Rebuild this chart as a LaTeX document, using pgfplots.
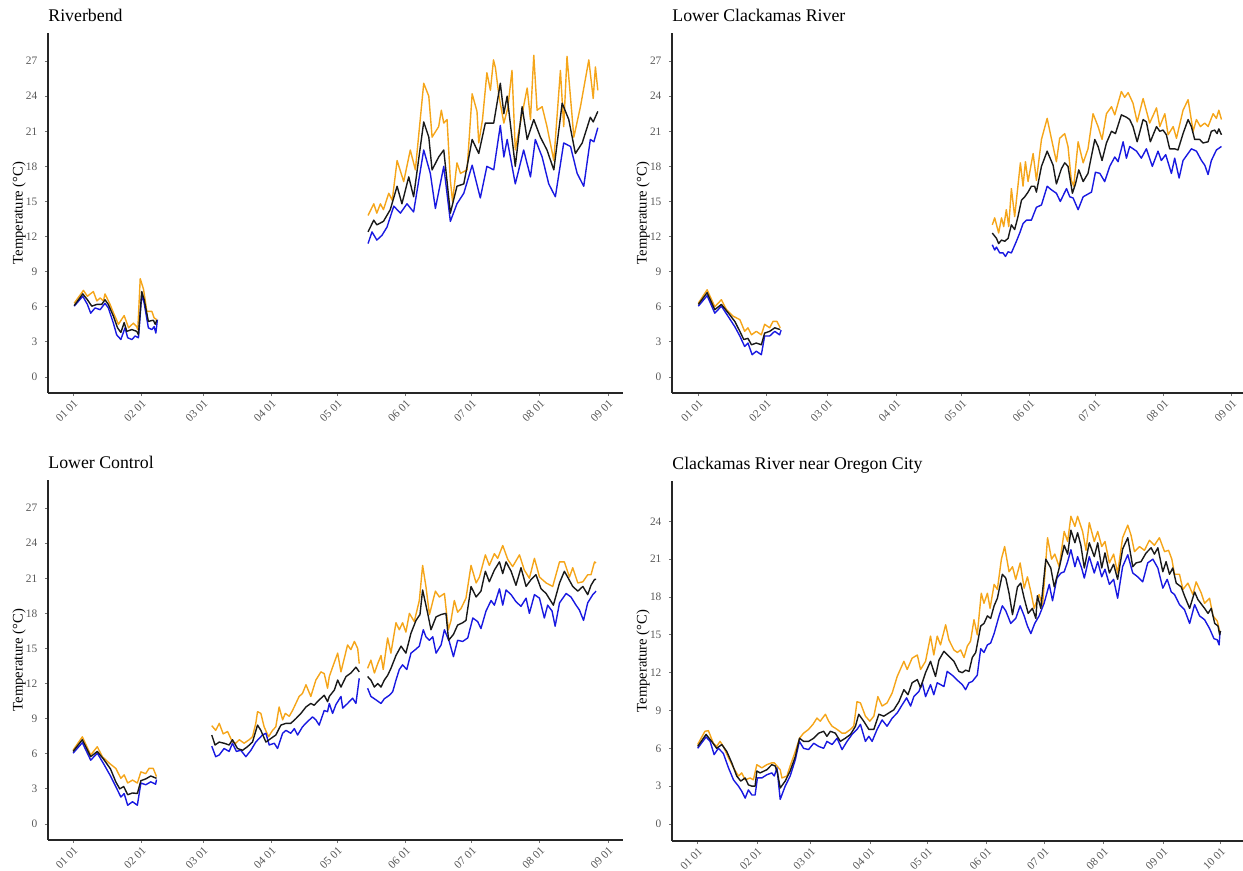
\documentclass[border=0pt]{standalone}
\usepackage{fontspec}
\setmainfont{Liberation Serif}
\usepackage{pgfplots}
\pgfplotsset{compat=1.18}
\definecolor{cmax}{RGB}{245,165,25}
\definecolor{cmean}{RGB}{25,25,25}
\definecolor{cmin}{RGB}{25,25,225}
\pgfplotsset{
 panel/.style={
  scale only axis, width=287.35pt, height=180pt,
  axis lines=left, axis line style={-, black!85, line width=0.6pt},
  tick style={black!55, line width=0.4pt}, tick align=outside, major tick length=1.6pt,
  xtick={0,31,59,90,120,151,181,212,243},
  xticklabels={01 01,02 01,03 01,04 01,05 01,06 01,07 01,08 01,09 01},
  ytick={0,3,...,27},
  ymin=-1.37, ymax=29.4,
  tick label style={font=\fontsize{5.7}{6}\selectfont, text=black!65},
  xticklabel style={rotate=45, anchor=north east, inner sep=0.8pt},
  yticklabel style={inner sep=1.5pt, xshift=-2pt},
  /pgf/number format/assume math mode=true,
  every axis y label/.style={at={([xshift=-14.5pt]axis description cs:0,0.5)}, rotate=90, anchor=center, inner sep=0pt, font=\fontsize{7.3}{8}\selectfont},
  ylabel={Temperature (°C)},
  every axis title/.style={at={(axis description cs:0,1)}, anchor=base west, inner sep=0pt, yshift=5.5pt, font=\fontsize{8.9}{10}\selectfont},
 },
 tmax/.style={cmax, line width=0.7pt, line join=round, no marks},
 tmean/.style={cmean, line width=0.7pt, line join=round, no marks},
 tmin/.style={cmin, line width=0.7pt, line join=round, no marks},
}
\begin{document}
\begin{tikzpicture}
\useasboundingbox (0,0) rectangle (621.5pt,435.5pt);
% ---------------- Panel 1: Riverbend
\begin{axis}[panel, at={(24pt,239pt)}, anchor=south west, xmin=-11.4, xmax=249.7, title={Riverbend}]
\addplot[tmax] coordinates {(0.5,6.3)(4.7,7.4)(6.5,6.9)(9.2,7.3)(10.8,6.5)(12.3,6.75)(13.8,6.5)(14.5,7.1)(16.8,6.2)(18.3,5.5)(20.6,4.5)(23.2,5.25)(25.2,4.2)(27.4,4.6)(28.9,4.3)(29.4,4.05)(30.5,8.4)(32,7.5)(33.5,5.6)(35.8,5.6)(36.8,5.05)(38,4.9)};
\addplot[tmax] coordinates {(134,13.8)(136.6,14.8)(138,14.0)(139.6,14.8)(141,14.3)(143.4,15.7)(145,15.1)(147.2,18.5)(150.2,16.7)(153.2,19.4)(155.5,17.7)(159.3,25.1)(161.6,24.0)(163.1,20.5)(166.1,21.4)(167.3,22.8)(168.4,21.7)(169.9,22.0)(171.4,16.8)(172.4,15.0)(174.4,18.3)(176,17.4)(179,17.7)(181.3,24.2)(183.5,22.7)(184.3,20.0)(186,22)(188,26.0)(189.6,24.5)(191,27.1)(191.9,26.4)(193.5,24)(195.7,21.7)(197.5,23)(199.4,26.2)(200.9,19.4)(203.2,21.7)(206.3,24.7)(207.8,22.0)(209.3,27.5)(210.8,22.8)(213.1,23.1)(215.3,21.4)(218.4,18.5)(221.4,26.2)(222.9,21.4)(224.4,27.4)(227.5,20.5)(230.5,23.1)(234.3,27.1)(236.3,23.8)(237.3,26.5)(238.4,24.5)};
\addplot[tmin] coordinates {(0.5,6.05)(4.4,6.9)(6.5,6.2)(8.0,5.45)(10,5.9)(12.3,5.75)(14.5,6.3)(16,5.9)(18.3,4.6)(19.8,3.6)(21.7,3.2)(23.6,4.2)(24.8,3.35)(26.7,3.2)(28.2,3.5)(29.7,3.35)(31.2,7.05)(32.3,6.3)(34.2,4.2)(35.8,4.05)(36.8,4.3)(37.6,3.75)(38.3,4.9)};
\addplot[tmin] coordinates {(134,11.4)(135.8,12.4)(138,11.7)(140.3,12.1)(142.6,12.8)(145.7,14.6)(148.7,14.0)(151.7,14.8)(154.7,14.1)(159.3,19.4)(162.3,17.4)(164.6,14.4)(168.4,18.0)(171.4,13.3)(174.4,14.8)(177.5,15.7)(181.3,18.1)(185,15.3)(188,18.0)(191.1,17.7)(194.1,21.5)(195.7,18.8)(197.2,20.3)(200.9,16.5)(204.7,19.4)(207.8,17.1)(210,20.3)(213.1,18.8)(216.1,16.5)(219.1,15.4)(222.9,20.0)(226,19.7)(229,17.4)(232,16.3)(235,20.3)(236.6,20.1)(238.4,21.3)};
\addplot[tmean] coordinates {(0.5,6.1)(4.4,7.1)(6.5,6.6)(8.5,6.05)(10.8,6.2)(13,6.2)(14.5,6.6)(16,6.2)(18.3,5.2)(20.2,4.2)(21.7,3.8)(23.2,4.65)(24.4,3.9)(26.7,4.05)(28.9,3.9)(29.7,3.6)(31.2,7.3)(32.3,6.6)(34.2,4.75)(36.5,4.85)(37.3,4.5)(38,4.85)};
\addplot[tmean] coordinates {(134,12.4)(136.6,13.4)(138,13.0)(141,13.3)(144.1,14.3)(147.2,16.3)(149.4,14.8)(152.5,17.1)(154.7,15.4)(159.3,21.8)(161.6,20.5)(163.1,17.7)(166.1,18.8)(168.4,19.4)(171.4,14.0)(174.4,16.3)(177.5,16.5)(181.3,20.3)(184.3,19.1)(187.3,21.7)(191.1,21.7)(194.1,25.1)(195.7,22.5)(197.2,24.0)(200.9,18.0)(204,23.1)(206.3,20.3)(209.3,22.0)(212.3,20.5)(215.3,19.4)(218.4,17.7)(222.2,23.4)(225.2,22.0)(228.2,19.1)(231.3,20.0)(235,22.2)(236.3,21.8)(238.4,22.7)};
\end{axis}
% ---------------- Panel 2: Lower Clackamas River
\begin{axis}[panel, at={(336pt,239pt)}, anchor=south west, xmin=-12.0, xmax=249.8, title={Lower Clackamas River}]
\addplot[tmax] coordinates {(0,6.3)(4.0,7.45)(7.5,6.0)(10.5,6.6)(12.8,5.75)(15.8,5.2)(18.9,4.9)(21.1,3.9)(22.6,4.2)(24.2,3.6)(26.4,3.9)(28.7,3.6)(30.2,4.5)(32.5,4.2)(34.0,4.75)(35.8,4.75)(37.3,4.2)};
\addplot[tmax] coordinates {(133.9,13.0)(135.0,13.6)(136.8,12.3)(138.1,13.6)(139.1,12.85)(140.3,14.3)(141.4,12.85)(142.6,16.1)(144.1,13.7)(146.7,18.3)(147.9,16.3)(149.0,18.4)(150.2,16.7)(152.5,19.1)(154.0,16.8)(156.3,20.3)(158.9,22.1)(160.8,20.4)(163.1,18.4)(164.6,20.4)(166.9,20.8)(168.4,19.7)(169.9,16.8)(171.0,16.3)(173.0,20.1)(175.3,18.3)(177.5,19.5)(179.8,22.5)(182.1,21.4)(183.9,20.3)(185.9,22.5)(188.2,23.1)(189.7,22.4)(192.7,24.4)(194.2,23.9)(195.8,24.3)(198.0,23.4)(199.9,21.8)(202.6,23.8)(205.6,21.7)(208.7,23.0)(210.2,21.4)(212.5,22.5)(214.0,20.7)(216.3,21.4)(217.8,20.4)(220.8,22.8)(223.1,23.7)(225.4,21.0)(226.9,22.0)(228.7,21.4)(230.7,21.7)(232.2,21.4)(234.5,22.5)(236.0,22.1)(237.1,22.8)(238.3,22.0)};
\addplot[tmin] coordinates {(0,6.05)(4.0,6.95)(7.5,5.45)(10.5,6.05)(13.5,5.2)(16.6,4.3)(18.9,3.5)(21.1,2.6)(22.6,2.9)(24.5,1.9)(26.4,2.2)(28.7,1.9)(30.2,3.5)(32.5,3.5)(34.8,3.9)(37.0,3.6)(37.7,4.0)};
\addplot[tmin] coordinates {(133.9,11.3)(135.0,10.85)(135.8,11.1)(137.3,10.6)(138.8,10.6)(139.9,10.3)(141.1,10.7)(142.6,10.6)(144.9,11.6)(146.4,12.3)(147.9,13.1)(149.4,13.4)(151.7,13.4)(154.0,14.5)(156.3,14.7)(158.9,16.3)(160.8,16.0)(163.1,15.7)(164.9,15.0)(167.7,16.1)(169.2,15.4)(170.7,15.3)(173.0,14.3)(175.3,15.4)(179.1,15.8)(180.9,17.5)(182.9,17.4)(185.1,16.7)(187.4,18.0)(189.7,18.8)(191.2,18.4)(193.5,20.1)(195.0,18.7)(196.5,19.7)(199.6,19.3)(201.8,18.7)(204.1,19.5)(206.8,18.0)(209.4,19.3)(210.9,18.5)(212.9,19.0)(215.5,17.4)(217.0,18.7)(219.0,17.0)(220.8,18.5)(224.6,19.5)(226.9,19.3)(229.2,18.5)(230.7,18.1)(232.2,17.3)(233.7,18.5)(236.0,19.4)(238.3,19.7)};
\addplot[tmean] coordinates {(0,6.2)(4.0,7.2)(7.5,5.75)(10.5,6.2)(13.5,5.5)(16.6,4.75)(18.9,3.9)(20.7,3.2)(22.6,3.3)(24.2,2.75)(26.4,2.9)(28.7,2.75)(30.2,3.75)(32.5,3.9)(34.8,4.2)(37.3,4.05)};
\addplot[tmean] coordinates {(133.9,12.3)(135.8,11.85)(136.8,11.4)(138.1,11.7)(139.6,11.6)(141.1,11.85)(142.6,13.0)(144.1,12.6)(145.6,13.7)(147.2,15.1)(148.7,15.4)(150.2,15.8)(151.7,16.3)(153.2,16.3)(154.0,15.8)(156.3,18.0)(158.9,19.3)(161.6,18.1)(163.1,16.5)(165.4,17.8)(166.9,18.3)(168.4,18.0)(170.4,15.7)(171.8,16.5)(173.3,17.7)(175.3,16.7)(177.5,17.4)(180.6,20.3)(182.1,19.7)(183.9,18.5)(185.9,20.0)(188.2,21.0)(190.0,20.8)(192.7,22.4)(195.0,22.2)(196.5,22.0)(198.0,21.4)(199.9,20.1)(202.6,22.0)(204.1,21.8)(205.9,20.1)(208.7,21.4)(210.2,21.0)(211.7,21.1)(213.2,20.7)(214.7,19.5)(217.0,19.5)(218.5,19.4)(220.8,20.8)(223.1,22.0)(224.6,21.4)(226.1,20.3)(228.4,20.3)(229.9,20.0)(232.2,20.1)(233.7,21.0)(235.2,21.1)(236.3,20.8)(237.1,21.2)(238.3,20.7)};
\end{axis}
% ---------------- Panel 3: Lower Control
\begin{axis}[panel, at={(24pt,15.5pt)}, anchor=south west, xmin=-11.4, xmax=249.7, title={Lower Control}]
\addplot[tmax] coordinates {(0,6.3)(4.2,7.45)(8.0,5.9)(11,6.6)(13.3,5.75)(16.4,5.2)(19.4,4.75)(21.7,3.9)(23.2,4.2)(24.8,3.5)(27.0,3.75)(29.2,3.5)(30.8,4.45)(33.0,4.3)(34.5,4.75)(36.4,4.75)(37.9,4.05)};
\addplot[tmax] coordinates {(63.0,8.4)(64.8,8.0)(66.4,8.6)(68.2,7.7)(70.2,7.9)(72.4,7.0)(73.9,6.9)(75.5,7.2)(77.7,6.9)(80.0,7.2)(81.5,7.45)(83.0,8.6)(83.8,9.6)(85.3,9.45)(86.8,8.3)(88.8,7.45)(90.6,8.0)(92.1,8.3)(93.6,10.0)(95.2,8.9)(96.4,9.45)(98.2,9.2)(99.7,9.7)(102.7,10.9)(104.2,11.15)(105.8,11.9)(108.0,10.9)(110.3,12.3)(112.6,13.0)(114.1,12.85)(115.6,11.6)(116.4,12.6)(117.9,13.4)(120.2,14.6)(121.7,13.0)(124.7,15.3)(126.2,14.9)(127.8,15.6)(129.3,15.0)(130.0,13.7)};
\addplot[tmax] coordinates {(133.8,13.3)(135.3,14.0)(136.9,12.9)(138.4,13.7)(139.9,14.4)(140.9,13.2)(142.9,15.9)(144.4,14.6)(146.7,17.2)(148.2,16.6)(149.7,17.2)(151.2,16.4)(152.8,18.0)(155.0,17.3)(157.3,19.1)(158.8,22.1)(160.3,20.3)(161.9,17.9)(164.6,19.9)(166.4,19.4)(168.7,19.7)(170.5,16.6)(171.7,17.4)(173.2,19.1)(174.7,18.1)(176.2,18.4)(178.5,19.3)(180.8,22.1)(183.1,20.6)(184.6,21.1)(187.3,23.0)(189.1,22.1)(191.4,23.1)(192.9,22.7)(195.2,23.8)(197.5,22.6)(199.7,22.0)(202.8,23.0)(205.0,21.7)(207.3,21.0)(209.6,22.7)(211.9,21.1)(214.9,20.6)(217.9,20.3)(221.0,22.4)(223.2,22.4)(225.5,21.1)(227.0,21.9)(229.3,20.6)(231.6,20.7)(233.8,21.3)(235.3,21.3)(236.9,22.4)(237.6,22.3)};
\addplot[tmin] coordinates {(0,6.05)(4.2,6.95)(8.0,5.45)(11,6.05)(14,5.1)(17,4.1)(19.4,3.2)(21.7,2.3)(23.2,2.6)(24.8,1.6)(27.0,1.9)(29.2,1.6)(30.8,3.5)(33.0,3.35)(35.3,3.6)(37.5,3.4)(37.9,3.8)};
\addplot[tmin] coordinates {(63.0,6.65)(64.8,5.75)(66.4,5.9)(68.6,6.45)(70.9,6.2)(72.4,6.9)(74.2,6.2)(76.2,6.3)(78.5,5.75)(80.8,6.3)(83.0,7.0)(86.0,7.6)(87.6,7.75)(89.1,6.75)(91.4,6.9)(92.9,6.45)(95.2,7.75)(96.7,8.0)(98.9,7.75)(100.5,8.15)(102.0,7.6)(104.2,8.3)(106.5,8.75)(108.8,9.15)(110.3,8.9)(111.8,8.45)(114.1,9.7)(115.6,9.6)(116.4,10.3)(117.9,9.45)(119.4,10.2)(121.7,10.9)(122.5,9.9)(124.7,10.3)(127.0,10.75)(128.5,10.3)(130.0,12.45)};
\addplot[tmin] coordinates {(133.8,11.6)(135.3,10.9)(136.9,10.7)(138.4,10.5)(139.9,10.3)(141.4,10.7)(143.7,11.0)(145.2,11.3)(146.7,12.3)(148.2,13.2)(149.7,13.6)(151.6,13.2)(153.5,14.6)(155.5,14.9)(157.3,15.2)(159.1,16.6)(160.3,16.0)(161.9,15.7)(163.4,16.0)(164.9,14.6)(167.2,15.3)(168.7,16.6)(170.9,15.6)(172.8,14.3)(174.7,15.7)(177.0,15.6)(179.3,15.9)(181.6,17.6)(183.8,17.3)(185.3,16.7)(187.6,18.2)(189.9,19.1)(191.4,18.7)(193.7,20.1)(195.2,18.7)(196.7,20.0)(199.0,19.6)(201.2,19.0)(203.5,18.6)(205.8,19.3)(207.3,18.0)(209.6,19.6)(211.9,19.3)(214.1,17.6)(215.6,18.7)(217.6,18.2)(219.0,16.9)(221.0,18.9)(224.0,19.7)(226.2,19.4)(228.5,18.7)(230.0,18.3)(231.9,17.4)(233.8,18.9)(236.1,19.6)(237.6,19.9)};
\addplot[tmean] coordinates {(0,6.2)(4.2,7.2)(8.0,5.75)(11,6.2)(14,5.5)(17,4.7)(19.4,3.6)(21.2,3.0)(23.0,3.2)(24.8,2.5)(27.0,2.65)(29.2,2.6)(30.8,3.7)(33.0,3.85)(35.3,4.1)(37.9,3.9)};
\addplot[tmean] coordinates {(63.0,7.6)(64.5,6.75)(66.4,7.0)(68.6,6.9)(70.9,6.75)(72.4,7.2)(74.7,6.45)(77.0,6.3)(79.2,6.6)(81.5,7.0)(83.8,8.45)(85.3,8.0)(87.6,7.0)(89.8,7.3)(92.1,7.6)(94.4,8.45)(96.7,8.6)(98.9,8.6)(101.2,9.0)(103.5,9.45)(105.8,10.0)(108.0,10.3)(109.5,10.15)(111.8,10.6)(114.1,11.0)(115.6,10.45)(116.4,10.9)(118.7,11.45)(120.2,12.3)(121.7,11.7)(124.0,12.6)(126.2,12.9)(128.5,13.4)(130.0,13.0)};
\addplot[tmean] coordinates {(133.8,12.6)(135.3,12.3)(136.9,11.7)(138.4,12.0)(139.9,11.7)(141.4,12.3)(142.9,12.7)(144.4,13.3)(146.7,14.4)(149.0,15.2)(151.2,14.6)(153.5,16.3)(155.8,17.4)(157.6,17.9)(158.8,20.0)(161.1,18.0)(162.6,16.6)(164.9,17.7)(167.2,17.9)(169.4,18.0)(170.6,15.7)(172.8,16.2)(174.7,17.0)(177.0,17.2)(178.5,17.4)(180.8,20.3)(183.1,19.4)(185.3,19.9)(187.3,21.6)(189.1,20.7)(191.4,21.7)(193.7,22.4)(195.2,21.4)(196.7,22.4)(199.0,21.6)(201.2,20.4)(203.5,21.9)(205.8,20.3)(208.1,20.9)(210.3,21.3)(212.6,20.1)(214.9,19.7)(218.2,18.7)(221.0,20.6)(223.2,21.6)(224.7,21.1)(227.0,20.3)(229.3,19.9)(231.6,20.3)(233.8,19.6)(235.3,20.4)(236.9,20.9)(237.6,20.9)};
\end{axis}
% ---------------- Panel 4: Clackamas River near Oregon City
\begin{axis}[panel, at={(336pt,15pt)}, anchor=south west, xmin=-13.4, xmax=286.7, ymin=-1.35, ymax=27.2,
  ytick={0,3,...,24},
  xtick={0,31,59,90,120,151,181,212,243,273},
  xticklabels={01 01,02 01,03 01,04 01,05 01,06 01,07 01,08 01,09 01,10 01},
  title={Clackamas River near Oregon City}]
\addplot[tmax] coordinates {(0,6.3)(3.8,7.35)(5.6,7.4)(8.2,6.4)(9.9,6.15)(11.7,6.55)(13.4,6.15)(16.1,5.25)(18.7,4.45)(21.3,3.8)(23.0,4.05)(24.8,3.5)(27.4,3.65)(29.1,3.5)(30.9,4.7)(33.5,4.45)(36.1,4.7)(38.7,4.85)(40.0,4.85)(41.4,4.6)(43.1,4.3)(44.0,3.65)(46.6,3.8)(48.3,4.6)(51.0,5.75)(53.2,6.8)(55.3,7.2)(57.9,7.5)(60.2,7.9)(62.3,8.4)(64.0,8.15)(66.7,8.7)(68.4,8.15)(70.2,7.75)(72.8,7.5)(75.4,7.2)(77.1,7.2)(79.8,7.5)(81.5,7.75)(83.2,9.7)(85.0,9.6)(87.6,8.55)(89.9,8.15)(92.0,8.55)(94.1,10.1)(96.3,9.35)(98.9,9.6)(101.6,10.4)(104.2,11.7)(107.7,12.9)(109.4,12.25)(112.0,13.15)(114.7,13.4)(116.4,12.25)(119.0,12.9)(121.6,14.9)(123.3,13.4)(125.1,14.9)(126.8,14.2)(129.5,15.8)(131.2,14.6)(133.8,13.8)(135.6,13.6)(137.3,13.8)(139.1,13.2)(140.8,14.1)(142.5,14.5)(144.3,16.2)(146.0,15.0)(148.1,18.3)(149.5,17.5)(151.3,18.3)(152.7,17.1)(154.8,19.0)(156.5,18.6)(158.6,21.0)(160.3,22.0)(162.6,20.0)(164.4,20.4)(166.1,19.4)(168.4,20.7)(170.5,18.7)(172.2,19.6)(174.0,18.4)(175.7,17.1)(178.3,18.2)(180.1,17.3)(182.7,22.7)(184.8,21.0)(186.5,21.4)(188.8,20.4)(191.4,23.2)(193.2,22.4)(194.9,24.4)(197.0,23.6)(198.4,24.4)(201.0,23.2)(202.8,21.7)(204.5,23.9)(207.1,22.4)(208.9,23.2)(211.0,22.0)(212.7,22.4)(215.0,20.7)(217.2,21.4)(219.3,19.9)(221.9,22.7)(224.6,23.7)(226.3,22.9)(228.1,21.6)(230.7,22.0)(233.3,21.7)(235.9,22.5)(238.5,22.1)(241.1,22.7)(243.8,21.6)(245.9,21.7)(247.6,21.0)(249.0,19.8)(251.6,19.8)(253.4,18.6)(256.0,19.1)(258.6,18.2)(260.3,19.2)(263.0,18.3)(264.7,17.5)(267.3,17.9)(269.1,16.5)(271.3,16.1)(272.6,15.3)};
\addplot[tmin] coordinates {(0,6.0)(4.4,6.9)(6.5,6.55)(8.6,5.5)(10.8,6.0)(13.4,5.6)(16.1,4.45)(18.7,3.5)(21.3,3.0)(23.0,2.6)(24.8,2.05)(26.5,2.7)(28.3,2.3)(30.0,2.3)(31.2,3.65)(33.5,3.65)(36.1,3.9)(38.7,4.05)(40.0,3.8)(41.4,4.45)(43.1,1.95)(45.7,3.0)(48.3,3.8)(51.0,5.1)(53.1,6.55)(55.3,6.0)(57.9,5.9)(60.6,6.4)(63.2,6.15)(65.8,6.0)(67.5,6.55)(70.2,6.3)(72.8,6.8)(75.4,5.9)(78.0,6.55)(80.6,7.1)(83.2,7.5)(85.0,7.9)(87.6,6.55)(89.4,6.95)(91.1,6.55)(93.7,7.5)(96.3,8.25)(98.9,7.75)(101.6,8.4)(104.2,8.8)(106.8,9.45)(109.1,10.0)(111.2,9.35)(112.9,10.1)(115.5,10.5)(117.3,11.2)(119.0,10.1)(121.6,11.05)(123.3,10.25)(125.1,11.2)(128.6,10.9)(130.3,12.1)(132.9,11.8)(135.6,11.4)(138.2,11.05)(139.9,10.65)(141.7,11.2)(143.4,11.3)(146.0,11.8)(147.8,13.9)(149.5,13.6)(151.3,14.2)(153.0,14.35)(154.8,15.1)(157.4,16.5)(159.1,17.3)(160.9,16.9)(163.5,15.9)(166.1,16.3)(168.4,17.3)(170.5,16.5)(172.2,15.7)(174.0,15.1)(176.0,15.9)(178.3,16.5)(180.9,17.5)(183.6,19.0)(185.3,17.7)(187.6,19.5)(189.7,19.9)(191.4,20.0)(193.2,20.8)(194.9,21.75)(197.0,20.4)(198.4,21.2)(200.5,20.3)(201.9,19.5)(204.5,21.2)(207.1,19.9)(208.9,20.8)(211.0,19.6)(212.7,20.2)(215.0,19.0)(217.2,19.4)(219.3,17.9)(221.9,20.4)(224.6,21.35)(227.2,19.9)(229.8,19.6)(232.4,19.2)(235.0,20.7)(237.7,21.0)(240.3,20.3)(242.9,18.7)(245.2,19.4)(247.3,18.4)(249.0,18.2)(251.6,17.4)(254.2,17.0)(256.9,15.9)(259.5,17.4)(262.1,16.5)(264.7,16.2)(267.3,15.5)(269.6,14.7)(271.3,14.6)(272.3,14.2)(272.7,15.1)(273.0,15.3)};
\addplot[tmean] coordinates {(0,6.15)(4.4,7.1)(7.3,6.55)(9.9,6.0)(12.6,6.3)(15.2,5.75)(17.8,4.85)(20.4,3.8)(22.5,3.4)(24.8,3.65)(26.5,3.1)(28.3,3.0)(30.0,3.0)(30.9,4.2)(32.6,4.05)(36.1,4.3)(38.7,4.7)(40.5,4.6)(41.7,4.05)(43.1,2.85)(45.7,3.4)(48.3,4.2)(51.0,5.35)(53.2,6.8)(55.3,6.55)(57.9,6.55)(60.6,6.8)(63.2,7.2)(65.8,7.35)(67.5,6.95)(69.3,7.35)(71.9,7.2)(74.5,6.55)(77.1,6.8)(79.8,7.1)(82.4,7.75)(84.1,8.7)(86.7,8.15)(89.4,7.5)(92.0,7.5)(94.6,8.7)(97.2,8.55)(99.8,8.8)(102.4,9.05)(105.1,9.7)(107.7,10.65)(109.8,10.25)(112.0,11.2)(114.7,11.45)(116.4,10.8)(119.0,12.0)(121.6,12.9)(124.2,11.7)(126.0,13.0)(128.6,13.7)(131.2,13.3)(133.8,12.9)(136.4,12.1)(138.2,12.0)(139.9,12.2)(141.7,12.1)(143.4,13.2)(145.2,13.6)(147.8,15.7)(149.5,15.9)(151.3,16.5)(153.0,16.3)(154.8,17.3)(156.5,17.9)(159.1,19.8)(160.9,19.5)(162.6,18.3)(164.4,16.6)(167.0,18.8)(168.7,19.1)(170.5,17.9)(172.6,16.7)(174.8,17.1)(176.6,16.3)(177.4,18.1)(179.2,17.1)(181.8,21.0)(184.4,20.3)(186.2,18.8)(188.8,20.3)(191.4,22.1)(193.2,21.4)(194.9,23.3)(197.0,22.3)(198.4,23.1)(200.1,22.1)(201.9,20.3)(204.5,22.3)(207.1,21.2)(208.9,22.3)(211.0,20.3)(212.7,21.5)(215.0,19.9)(217.2,20.6)(219.3,19.4)(221.9,21.8)(224.6,22.7)(227.2,20.4)(228.9,20.7)(231.5,20.8)(234.2,21.5)(236.8,21.9)(238.5,21.4)(240.3,21.9)(242.9,20.0)(244.6,20.8)(246.4,19.8)(248.1,20.3)(249.9,19.1)(252.5,18.8)(254.2,18.1)(256.9,17.1)(259.5,18.4)(261.2,17.8)(264.7,17.1)(266.5,16.7)(268.2,17.1)(270.0,15.9)(271.7,15.7)(272.6,15.0)(273.0,15.3)};
\end{axis}
\end{tikzpicture}
\end{document}
